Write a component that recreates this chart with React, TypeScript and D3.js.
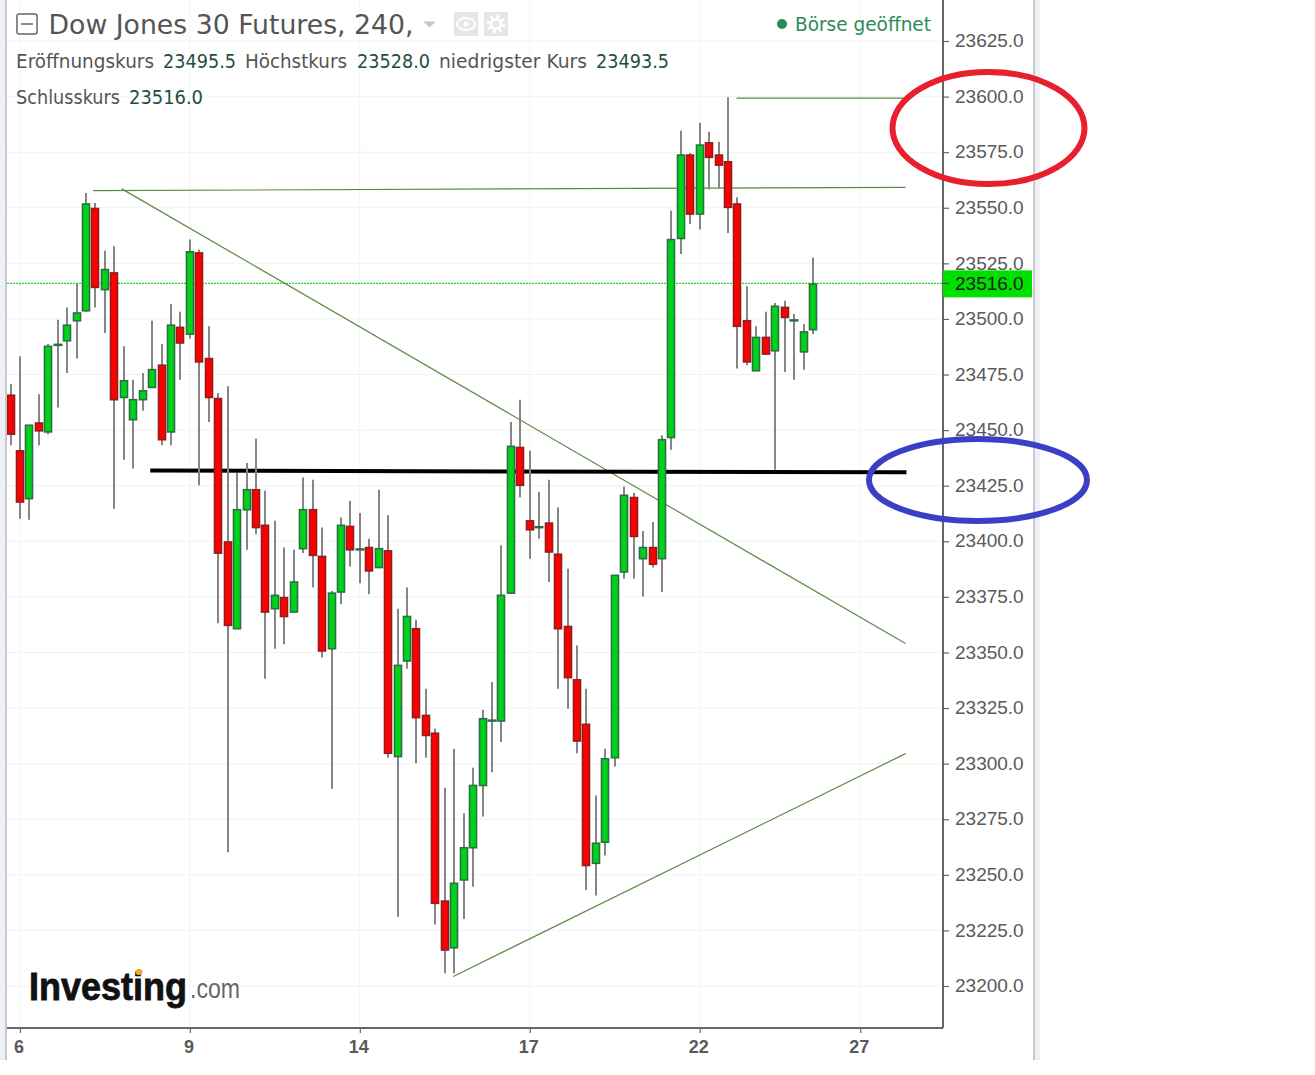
import React, { useRef, useEffect } from "react";
import * as d3 from "d3";

// 4h candles
const opens = [
  23466, 23441, 23419.5, 23453.5, 23449.5, 23488, 23490.5, 23499.5, 23504, 23550,
  23513.5, 23521, 23465, 23455, 23464, 23469.5, 23479.5, 23449.5, 23496.5, 23493.5,
  23530, 23482.5, 23464.5, 23400, 23361, 23414.5, 23423.5, 23407.5, 23370, 23375,
  23368.5, 23397, 23414.5, 23393.5, 23352, 23377.5, 23407, 23396, 23397.5, 23388.5,
  23396, 23303.5, 23346.5, 23361, 23322, 23314, 23238.5, 23217.5, 23248, 23262.5,
  23290.5, 23319, 23319.5, 23377, 23442.5, 23409.5, 23406, 23408.5, 23394.5, 23362,
  23338, 23318, 23255.5, 23265, 23303, 23386.5, 23420, 23392.5, 23397.5, 23392.5,
  23447, 23536.5, 23574, 23547.5, 23579.5, 23574, 23571, 23552, 23499.5, 23477,
  23492, 23486, 23505.5, 23499, 23485.5, 23495.5,
];
const highs = [
  23471, 23483.5, 23452.5, 23466.5, 23489, 23500, 23505.5, 23516, 23557, 23552.5,
  23531, 23533, 23488, 23473, 23476, 23499.5, 23489, 23507, 23503.5, 23536,
  23531.5, 23497, 23467, 23470, 23431, 23435.5, 23446.5, 23423, 23409.5, 23397.5,
  23396.5, 23429, 23428, 23406.5, 23378, 23411, 23418.5, 23413, 23401.5, 23423.5,
  23412, 23370, 23379.5, 23365, 23334, 23316, 23289.5, 23307, 23278, 23298.5,
  23324.5, 23337, 23398.5, 23454, 23464, 23441, 23422.5, 23428, 23415.5, 23388,
  23353.5, 23334, 23286, 23307, 23385, 23425, 23422, 23405, 23409, 23448,
  23549, 23585, 23575, 23588.5, 23584.5, 23580, 23600, 23555, 23515, 23497,
  23503.5, 23507.5, 23508.5, 23502.5, 23498, 23528,
];
const lows = [
  23443.5, 23410.5, 23410, 23443.5, 23448.5, 23460.5, 23476, 23482.5, 23503.5, 23505.5,
  23494, 23415, 23437, 23433, 23459, 23469.5, 23443.5, 23443.5, 23473, 23491.5,
  23425.5, 23454, 23363.5, 23260.5, 23361, 23396.5, 23403.5, 23338.5, 23352, 23354,
  23368.5, 23395, 23379.5, 23348, 23289, 23372, 23389, 23381.5, 23376.5, 23388.5,
  23303, 23231.5, 23343, 23300.5, 23303, 23228, 23206, 23206, 23230.5, 23245,
  23276.5, 23296.5, 23310, 23377, 23420, 23392.5, 23401.5, 23382, 23334, 23325,
  23305, 23243.5, 23241, 23259, 23299, 23383.5, 23383.5, 23375.5, 23388.5, 23377.5,
  23441.5, 23529.5, 23543, 23540.5, 23558.5, 23559, 23539, 23478, 23479.5, 23477,
  23484.5, 23432.5, 23476.5, 23473, 23477.5, 23493.5,
];
const closes = [
  23448.5, 23418, 23452.5, 23450, 23488, 23489, 23497.5, 23503, 23552, 23514.5,
  23522.5, 23464, 23472.5, 23464, 23468, 23477.5, 23446, 23497.5, 23489.5, 23530.5,
  23481, 23465, 23395, 23362.5, 23414.5, 23423.5, 23406.5, 23368.5, 23376, 23366.5,
  23382, 23414.5, 23394, 23351, 23377, 23407.5, 23396.5, 23397, 23387, 23397,
  23305, 23344.5, 23366.5, 23321, 23313, 23237.5, 23216.5, 23246.5, 23262.5, 23290.5,
  23320.5, 23320, 23376, 23443, 23425.5, 23405.5, 23407, 23395.5, 23361, 23339,
  23310.5, 23254.5, 23264.5, 23302.5, 23385, 23421, 23402.5, 23397.5, 23390, 23446,
  23536, 23574, 23547.5, 23578.5, 23573, 23569.5, 23550.5, 23497, 23481, 23492,
  23484.5, 23506, 23501, 23500, 23494.5, 23516,
];

const priceTicks = [
  23625, 23600, 23575, 23550, 23525, 23500, 23475, 23450, 23425, 23400, 23375,
  23350, 23325, 23300, 23275, 23250, 23225, 23200,
];
const dayTickIndex = [1, 19, 37, 55, 73, 90];
const dayTickLabels = ["6", "9", "14", "17", "22", "27"];
const lastPrice = 23516;

// hand drawn lines, as [candle index, price]
const thinLines = [
  [[8.75, 23557.7], [94.8, 23559.2]],
  [[76.9, 23599.3], [94.7, 23599.3]],
  [[11.8, 23558.5], [94.8, 23354]],
  [[46.9, 23204.3], [94.8, 23304.5]],
];
const blackLine = [[14.8, 23431.8], [94.9, 23431]];

const SANS = "'Liberation Sans', Arial, sans-serif";
const TAHOMA = "'DejaVu Sans', Verdana, sans-serif";

export default function App() {
  const svgRef = useRef<SVGSVGElement>(null);

  useEffect(() => {
    if (!svgRef.current) return;
    const svg = d3.select(svgRef.current);
    svg.selectAll("*").remove();

    const x = d3.scaleLinear().domain([0, 85]).range([10.5, 813]);
    const y = d3.scaleLinear().domain([23200, 23625]).range([986, 41]);
    const plotLeft = 7;
    const plotRight = 943;
    const plotBottom = 1028;

    svg.append("rect").attr("width", 1315).attr("height", 1075).attr("fill", "#fff");

    // frame strips
    svg.append("rect").attr("x", 0).attr("y", 0).attr("width", 5).attr("height", 1060).attr("fill", "#eff0f6");
    svg.append("rect").attr("x", 5).attr("y", 0).attr("width", 2).attr("height", 1060).attr("fill", "#c8c8cf");
    svg.append("rect").attr("x", 1033).attr("y", 0).attr("width", 2).attr("height", 1060).attr("fill", "#c8c8cf");
    svg.append("rect").attr("x", 1035).attr("y", 0).attr("width", 5).attr("height", 1060).attr("fill", "#eff0f6");

    // grid
    const grid = svg.append("g").attr("stroke", "#f2f2f4").attr("stroke-width", 1);
    priceTicks.forEach((p) => {
      grid.append("line").attr("x1", plotLeft).attr("x2", plotRight).attr("y1", y(p)).attr("y2", y(p));
    });
    dayTickIndex.forEach((d) => {
      grid.append("line").attr("x1", x(d)).attr("x2", x(d)).attr("y1", 0).attr("y2", plotBottom);
    });

    svg.append("defs").append("clipPath").attr("id", "plot")
      .append("rect").attr("x", plotLeft).attr("y", 0).attr("width", plotRight - plotLeft).attr("height", plotBottom);

    // last price line
    svg.append("line")
      .attr("x1", plotLeft).attr("x2", plotRight)
      .attr("y1", y(lastPrice)).attr("y2", y(lastPrice))
      .attr("stroke", "#22d822").attr("stroke-width", 1.2).attr("stroke-dasharray", "2,1");

    // candles
    const candles = svg.append("g").attr("clip-path", "url(#plot)");
    const line = d3.line<number[]>().x((d) => x(d[0])).y((d) => y(d[1]));

    thinLines.forEach((l) => {
      candles.append("path").attr("d", line(l)).attr("fill", "none").attr("stroke", "#5c8a48").attr("stroke-width", 1.2);
    });
    candles.append("path").attr("d", line(blackLine)).attr("fill", "none").attr("stroke", "#000").attr("stroke-width", 4);

    const bars = candles.append("g").attr("transform", "translate(0,0.7)");
    opens.forEach((o, i) => {
      const c = closes[i];
      const up = c >= o;
      const cx = Math.round(x(i));
      bars.append("line")
        .attr("x1", cx).attr("x2", cx)
        .attr("y1", y(highs[i])).attr("y2", y(lows[i]))
        .attr("stroke", "#858585").attr("stroke-width", 2);
      const top = y(Math.max(o, c));
      const h = Math.abs(y(o) - y(c));
      if (h < 3) {
        bars.append("rect")
          .attr("x", cx - 4.5).attr("y", top - 0.5).attr("width", 9).attr("height", Math.max(h, 2.5))
          .attr("fill", "#2f6b4a");
        return;
      }
      bars.append("rect")
        .attr("x", cx - 3.5).attr("y", top).attr("width", 7).attr("height", h)
        .attr("fill", up ? "#00d41a" : "#ff0000")
        .attr("stroke", up ? "#2a7040" : "#8f1f1f").attr("stroke-width", 1.6);
    });

    // price axis
    const priceAxis = svg.append("g")
      .attr("transform", `translate(${plotRight},0)`)
      .call(d3.axisRight(y).tickValues(priceTicks).tickSize(6).tickPadding(6).tickFormat((d) => d3.format(".1f")(d as number)));
    priceAxis.select(".domain").attr("d", `M0,0V${plotBottom}`).attr("stroke", "#666").attr("stroke-width", 2);
    priceAxis.selectAll("line").attr("stroke", "#666").attr("stroke-width", 1.2);
    priceAxis.selectAll("text")
      .attr("font-family", SANS).attr("font-size", 19).attr("fill", "#5a5a5a")
      .attr("dy", "0.3em");

    // day axis
    const dayAxis = svg.append("g")
      .attr("transform", `translate(0,${plotBottom})`)
      .call(d3.axisBottom(x).tickValues(dayTickIndex).tickSize(5).tickPadding(7).tickFormat((_, i) => dayTickLabels[i]));
    dayAxis.select(".domain").attr("d", `M${plotLeft},0H${plotRight}`).attr("stroke", "#666").attr("stroke-width", 2);
    dayAxis.selectAll("line").attr("stroke", "#666").attr("stroke-width", 1.2);
    dayAxis.selectAll("text")
      .attr("font-family", SANS).attr("font-size", 18).attr("font-weight", "bold").attr("fill", "#5a5a5a")
      .attr("transform", "translate(-1.5,0)");

    // last price label
    svg.append("rect").attr("x", plotRight).attr("y", y(lastPrice) - 13).attr("width", 89).attr("height", 27).attr("fill", "#00e000");
    svg.append("line").attr("x1", plotRight).attr("x2", plotRight + 6).attr("y1", y(lastPrice)).attr("y2", y(lastPrice)).attr("stroke", "#444");
    svg.append("text").attr("x", 955).attr("y", y(lastPrice) + 7)
      .attr("font-family", SANS).attr("font-size", 19).attr("fill", "#1c1c1c").text(d3.format(".1f")(lastPrice));

    // header
    const label = (s: string, lx: number, ly: number, w: number, fill: string, size = 19) =>
      svg.append("text").attr("x", lx).attr("y", ly)
        .attr("font-family", TAHOMA).attr("font-size", size).attr("fill", fill)
        .attr("textLength", w).attr("lengthAdjust", "spacingAndGlyphs").text(s);

    svg.append("rect").attr("x", 17).attr("y", 14).attr("width", 20).attr("height", 20).attr("rx", 2)
      .attr("fill", "#fff").attr("stroke", "#666").attr("stroke-width", 1.5);
    svg.append("line").attr("x1", 21).attr("x2", 33).attr("y1", 24).attr("y2", 24).attr("stroke", "#666").attr("stroke-width", 1.5);
    label("Dow Jones 30 Futures, 240,", 48.5, 34, 365, "#555", 27);
    svg.append("path").attr("d", "M423,21.5h13l-6.5,6z").attr("fill", "#c8c8c8");
    svg.append("rect").attr("x", 454).attr("y", 12).attr("width", 24).attr("height", 24).attr("fill", "#e6e6e6");
    svg.append("rect").attr("x", 484).attr("y", 12).attr("width", 24).attr("height", 24).attr("fill", "#e6e6e6");
    // eye and gear icons
    svg.append("ellipse").attr("cx", 466).attr("cy", 24).attr("rx", 9).attr("ry", 6).attr("fill", "none").attr("stroke", "#fff").attr("stroke-width", 2);
    svg.append("circle").attr("cx", 466).attr("cy", 24).attr("r", 2.5).attr("fill", "#fff");
    svg.append("circle").attr("cx", 496).attr("cy", 24).attr("r", 5).attr("fill", "none").attr("stroke", "#fff").attr("stroke-width", 3);
    svg.append("circle").attr("cx", 496).attr("cy", 24).attr("r", 8).attr("fill", "none").attr("stroke", "#fff").attr("stroke-width", 3).attr("stroke-dasharray", "3,3.3");

    label("Eröffnungskurs", 16, 68, 138, "#555");
    label("23495.5", 163, 68, 73, "#1f4f3c");
    label("Höchstkurs", 245, 68, 102, "#555");
    label("23528.0", 357, 68, 73, "#1f4f3c");
    label("niedrigster Kurs", 439, 68, 148, "#555");
    label("23493.5", 596, 68, 73, "#1f4f3c");
    label("Schlusskurs", 16, 103.5, 104, "#555");
    label("23516.0", 129, 103.5, 74, "#1f4f3c");

    svg.append("circle").attr("cx", 782).attr("cy", 24).attr("r", 5).attr("fill", "#2e8b57");
    label("Börse geöffnet", 795, 31, 136, "#2e8b57");

    // logo
    svg.append("text").attr("x", 29).attr("y", 1000)
      .attr("font-family", SANS).attr("font-size", 38).attr("font-weight", "bold").attr("fill", "#111")
      .attr("stroke", "#111").attr("stroke-width", 0.8)
      .attr("textLength", 158).attr("lengthAdjust", "spacingAndGlyphs").text("Investing");
    svg.append("text").attr("x", 190).attr("y", 998)
      .attr("font-family", SANS).attr("font-size", 27).attr("fill", "#666")
      .attr("textLength", 50).attr("lengthAdjust", "spacingAndGlyphs").text(".com");
    svg.append("ellipse").attr("cx", 139).attr("cy", 972).attr("rx", 3.5).attr("ry", 3).attr("fill", "#f5a623");

    // annotation circles
    svg.append("ellipse").attr("cx", 988.5).attr("cy", 128).attr("rx", 96).attr("ry", 56)
      .attr("fill", "none").attr("stroke", "#e81f2d").attr("stroke-width", 6);
    svg.append("ellipse").attr("cx", 978).attr("cy", 480).attr("rx", 109).attr("ry", 41)
      .attr("fill", "none").attr("stroke", "#3a40c4").attr("stroke-width", 6);
  }, []);

  return <svg ref={svgRef} width={1315} height={1075} style={{ position: "absolute", left: 0, top: 0 }} />;
}
